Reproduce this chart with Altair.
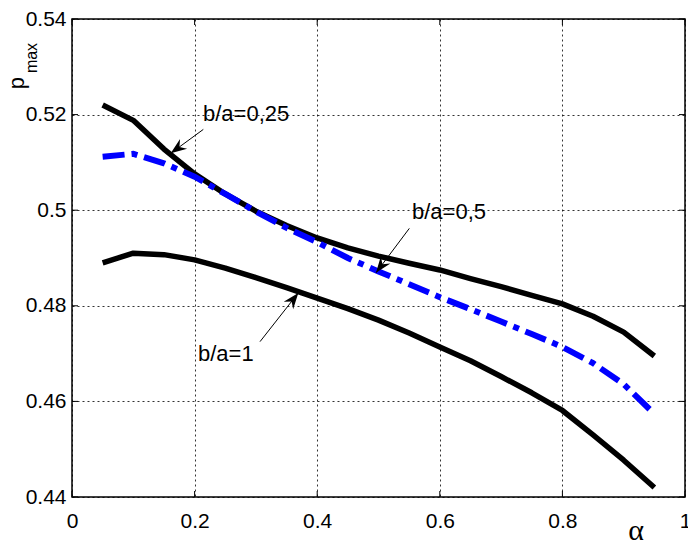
import math
import altair as alt
import pandas as pd

# ---- data ----
alpha = [0.05, 0.10, 0.15, 0.20, 0.25, 0.30, 0.35, 0.40, 0.45, 0.50,
         0.55, 0.60, 0.65, 0.70, 0.75, 0.80, 0.85, 0.90, 0.95]
p_025 = [0.5220, 0.5188, 0.5128, 0.5076, 0.5034, 0.4998, 0.4968, 0.4942, 0.4921, 0.4904,
         0.4889, 0.4875, 0.4857, 0.4840, 0.4822, 0.4804, 0.4778, 0.4745, 0.4695]
p_05 = [0.5112, 0.5118, 0.5098, 0.5070, 0.5034, 0.4997, 0.4963, 0.4933, 0.4900, 0.4872,
        0.4845, 0.4818, 0.4793, 0.4767, 0.4741, 0.4714, 0.4680, 0.4636, 0.4574]
p_1 = [0.4890, 0.4910, 0.4907, 0.4896, 0.4879, 0.4859, 0.4838, 0.4816, 0.4794, 0.4770,
       0.4743, 0.4714, 0.4685, 0.4652, 0.4618, 0.4581, 0.4530, 0.4477, 0.4420]

ann_text = ["b/a=0,25", "b/a=0,5", "b/a=1"]
ann_text_x = [0.2137, 0.5546, 0.2055]
ann_text_y = [0.5201, 0.4996, 0.4699]
arrow_tail_x = [0.2142, 0.5503, 0.3067]
arrow_tail_y = [0.5169, 0.4962, 0.4725]
arrow_tip_x = [0.1610, 0.4959, 0.3692]
arrow_tip_y = [0.5119, 0.4869, 0.4827]

x_ticks = [0, 0.2, 0.4, 0.6, 0.8, 1.0]
y_ticks = [0.44, 0.46, 0.48, 0.50, 0.52, 0.54]

W, H = 613, 478
X_DOM = [0, 1]
Y_DOM = [0.44, 0.54]
FONT = "Liberation Sans"

xs = alt.Scale(domain=X_DOM, nice=False, zero=False)
ys = alt.Scale(domain=Y_DOM, nice=False, zero=False)

df_025 = pd.DataFrame({"a": alpha, "p": p_025})
df_05 = pd.DataFrame({"a": alpha, "p": p_05})
df_1 = pd.DataFrame({"a": alpha, "p": p_1})

# arrow head angles (screen space, clockwise from up)
px_x = W / (X_DOM[1] - X_DOM[0])
px_y = H / (Y_DOM[1] - Y_DOM[0])
angles = []
for tx, ty, hx, hy in zip(arrow_tail_x, arrow_tail_y, arrow_tip_x, arrow_tip_y):
    dx = (hx - tx) * px_x
    dy = -(hy - ty) * px_y
    angles.append(math.degrees(math.atan2(dx, -dy)) % 360)

df_ann = pd.DataFrame({"t": ann_text, "x": ann_text_x, "y": ann_text_y})
df_arr = pd.DataFrame({"x": arrow_tail_x, "y": arrow_tail_y,
                       "x2": arrow_tip_x, "y2": arrow_tip_y, "ang": angles})

xaxis = alt.Axis(values=x_ticks, format="~g", grid=True, ticks=False, domain=False,
                 labelFlush=False, labelOverlap=False, labelPadding=13, title=None)
yaxis = alt.Axis(values=y_ticks, format="~g", grid=True, ticks=False, domain=False,
                 labelFlush=False, labelOverlap=False, labelPadding=6, title=None)

base_black = alt.Chart(df_025).mark_line(color="black", strokeWidth=5.5, strokeCap="butt",
                                          strokeJoin="round").encode(
    x=alt.X("a:Q", scale=xs, axis=xaxis),
    y=alt.Y("p:Q", scale=ys, axis=yaxis),
)
line_1 = alt.Chart(df_1).mark_line(color="black", strokeWidth=5.5, strokeCap="butt",
                                    strokeJoin="round").encode(
    x=alt.X("a:Q", scale=xs), y=alt.Y("p:Q", scale=ys))
line_05 = alt.Chart(df_05).mark_line(color="#0000FF", strokeWidth=6, strokeCap="butt",
                                      strokeDash=[22, 7, 6, 7]).encode(
    x=alt.X("a:Q", scale=xs), y=alt.Y("p:Q", scale=ys))

arrows = alt.Chart(df_arr).mark_rule(color="black", strokeWidth=1).encode(
    x=alt.X("x:Q", scale=xs), y=alt.Y("y:Q", scale=ys), x2="x2:Q", y2="y2:Q")
heads = alt.Chart(df_arr).mark_point(
    shape="M0,0 L0.75,2 L0,1.35 L-0.75,2 Z", filled=True, size=256, color="black",
    opacity=1, strokeWidth=0).encode(
    x=alt.X("x2:Q", scale=xs), y=alt.Y("y2:Q", scale=ys),
    angle=alt.Angle("ang:Q", scale=None))
labels = alt.Chart(df_ann).mark_text(font=FONT, fontSize=22, align="left",
                                     baseline="middle", color="black").encode(
    x=alt.X("x:Q", scale=xs), y=alt.Y("y:Q", scale=ys), text="t:N")

# inward ticks on all four sides (MATLAB box style)
dfx = pd.DataFrame({"v": x_ticks})
dfy = pd.DataFrame({"v": y_ticks})
tb = alt.Chart(dfx).mark_rule(color="black", strokeWidth=1).encode(
    x=alt.X("v:Q", scale=xs), y=alt.value(H), y2=alt.value(H - 6))
tt = alt.Chart(dfx).mark_rule(color="black", strokeWidth=1).encode(
    x=alt.X("v:Q", scale=xs), y=alt.value(0), y2=alt.value(6))
tl = alt.Chart(dfy).mark_rule(color="black", strokeWidth=1).encode(
    y=alt.Y("v:Q", scale=ys), x=alt.value(0), x2=alt.value(6))
tr = alt.Chart(dfy).mark_rule(color="black", strokeWidth=1).encode(
    y=alt.Y("v:Q", scale=ys), x=alt.value(W - 6), x2=alt.value(W))

# axis titles: p with subscript "max", and alpha
p_txt = alt.Chart(pd.DataFrame({"t": ["p"]})).mark_text(
    font=FONT, fontSize=22, angle=270, align="center", baseline="middle", color="black"
).encode(x=alt.value(-55), y=alt.value(64), text="t:N")
max_txt = alt.Chart(pd.DataFrame({"t": ["max"]})).mark_text(
    font=FONT, fontSize=16, angle=270, align="center", baseline="middle", color="black"
).encode(x=alt.value(-40), y=alt.value(39), text="t:N")
a_txt = alt.Chart(pd.DataFrame({"t": ["α"]})).mark_text(
    font="Liberation Serif", fontSize=30, align="center", baseline="middle", color="black"
).encode(x=alt.value(564), y=alt.value(H + 34), text="t:N")

chart = alt.layer(
    base_black, line_1, line_05, arrows, heads, labels, tb, tt, tl, tr, p_txt, max_txt, a_txt
).properties(
    width=W, height=H,
    autosize=alt.AutoSizeParams(type="none"),
    padding={"left": 72, "top": 19, "right": 3, "bottom": 48},
    background="white",
).configure_view(
    stroke="black", strokeWidth=1.5
).configure_axis(
    labelFont=FONT, labelFontSize=21, labelColor="black",
    gridColor="black", gridDash=[2, 3], gridOpacity=0.8, gridWidth=1,
)

chart.save("out.html", embed_options={"renderer": "svg", "actions": False})
